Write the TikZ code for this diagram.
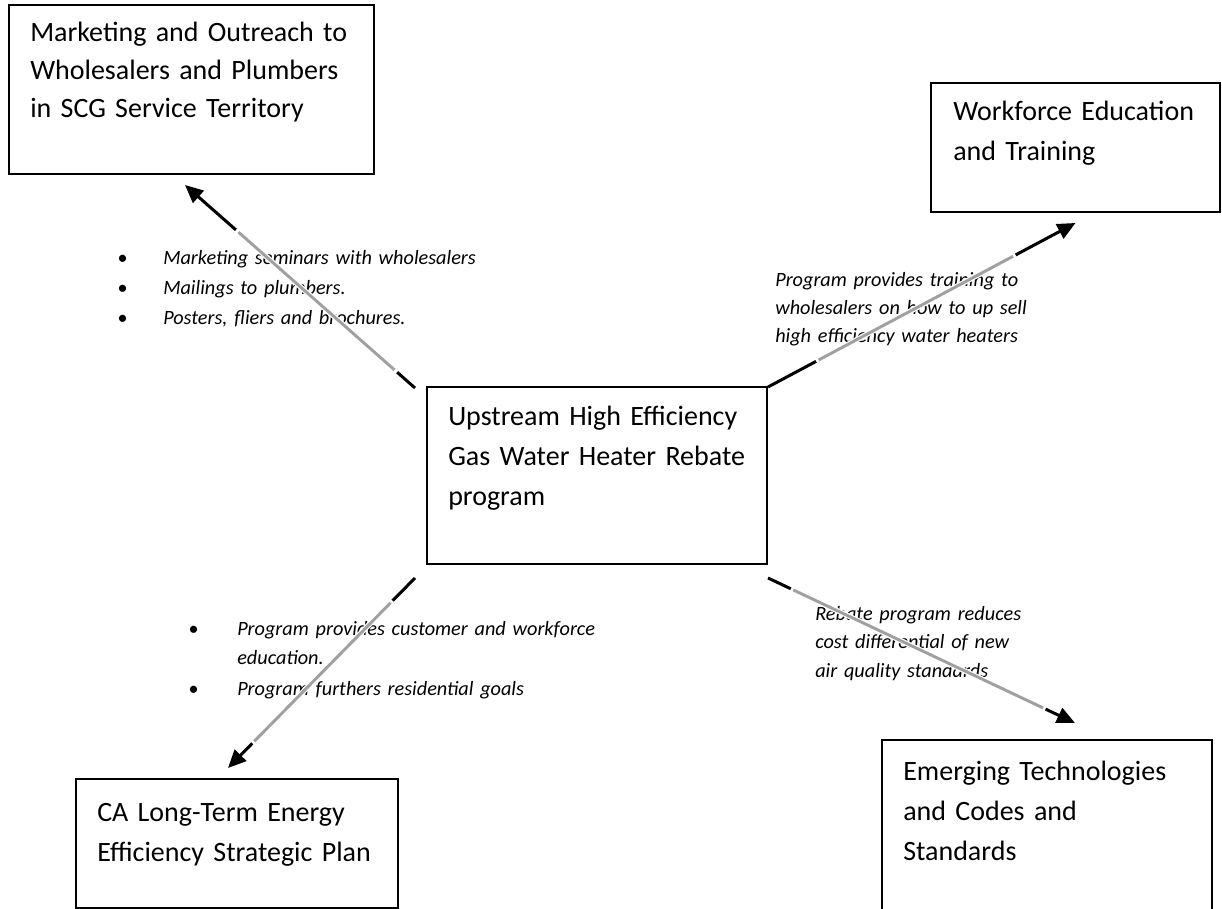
\documentclass[tikz,border=0pt]{standalone}
\usepackage{fontspec}
\setmainfont{Carlito}
\usetikzlibrary{arrows.meta, positioning}
\definecolor{linkGrey}{HTML}{A0A0A0}

\begin{document}
\begin{tikzpicture}[
    x=0.75pt, y=-0.75pt,
    block/.style={rectangle, draw=black, line width=1.5pt, anchor=north west,
                  inner sep=0pt, outer sep=0pt},
    blocktext/.style={anchor=base west, inner sep=0pt, align=left, text width=300pt,
                  font=\fontsize{21}{30}\selectfont},
    note/.style={anchor=base west, inner sep=0pt, align=left, text width=330pt,
                 font=\fontsize{15.2}{22}\selectfont\itshape},
    link/.style={line width=2.25pt, -{Triangle[length=13.5pt, width=12pt]}},
    midgrey/.style n args={4}{
      postaction={draw=white, -, line width=4pt, shorten <=#1, shorten >=#2},
      postaction={draw=linkGrey, -, line width=2.2pt, shorten <=#3, shorten >=#4}},
  ]
    \useasboundingbox (0,0) rectangle (1222,909);
    \clip (0,0) rectangle (1222,909);

    \node[block, minimum width=273.75pt, minimum height=126.75pt] (mkt) at (9,5) {};
    \node[block, minimum width=216.75pt, minimum height=96.75pt] (wfe) at (931,83) {};
    \node[block, minimum width=255pt, minimum height=132.75pt] (hub) at (427,387) {};
    \node[block, minimum width=241.5pt, minimum height=96.75pt] (plan) at (76,779) {};
    \node[block, minimum width=247.5pt, minimum height=157.5pt] (emg) at (882,740) {};

    \node[blocktext, font=\fontsize{21}{28.5}\selectfont] (mkt-t) at ([shift={(21,37)}]mkt.north west)
      {Marketing and Outreach to\\Wholesalers and Plumbers\\in SCG Service Territory};
    \node[blocktext] (wfe-t) at ([shift={(22,38)}]wfe.north west) {Workforce Education\\and Training};
    \node[blocktext] (hub-t) at ([shift={(21,39)}]hub.north west)
      {Upstream High Efficiency\\Gas Water Heater Rebate\\program};
    \node[blocktext] (plan-t) at ([shift={(21,42)}]plan.north west)
      {CA Long-Term Energy\\Efficiency Strategic Plan};
    \node[blocktext] (emg-t) at ([shift={(21,40)}]emg.north west)
      {Emerging Technologies\\and Codes and\\Standards};

    \node[note, font=\fontsize{15.2}{22.5}\selectfont\itshape] (mkt-n) at (117,265)
      {\makebox[34.5pt][l]{\textbullet}Marketing seminars with wholesalers\\
       \makebox[34.5pt][l]{\textbullet}Mailings to plumbers.\\
       \makebox[34.5pt][l]{\textbullet}Posters, fliers and brochures.};
    \node[note, font=\fontsize{15.2}{21}\selectfont\itshape] (wfe-n) at (775,287)
      {Program provides training to\\wholesalers on how to up sell\\high efficiency water heaters};
    \node[note] (plan-n) at (188,635)
      {\makebox[36.75pt][l]{\textbullet}Program provides customer and workforce\\
       \hspace*{36.75pt}education.\\[1.5pt]
       \makebox[36.75pt][l]{\textbullet}Program furthers residential goals};
    \node[note, font=\fontsize{15.2}{21.5}\selectfont\itshape] (emg-n) at (815,620)
      {Rebate program reduces\\cost differential of new\\air quality standards};

    \draw[link, midgrey={18pt}{51pt}{20.5pt}{53.5pt}]
      ([shift={(-12,1)}]hub.north west) -- ([shift={(-6.5,11)}]mkt.south);
    \draw[link, midgrey={41pt}{51pt}{43pt}{53pt}]
      ([shift={(1,0)}]hub.north east) -- ([shift={(0,11)}]wfe.south);
    \draw[link, midgrey={24pt}{26pt}{26pt}{28pt}]
      ([shift={(-12,14)}]hub.south west) -- ([shift={(-9,-11)}]plan.north);
    \draw[link, midgrey={19pt}{24.5pt}{21pt}{26.5pt}]
      ([shift={(1,14)}]hub.south east) -- ([shift={(28,-17)}]emg.north);
  \end{tikzpicture}
\end{document}
